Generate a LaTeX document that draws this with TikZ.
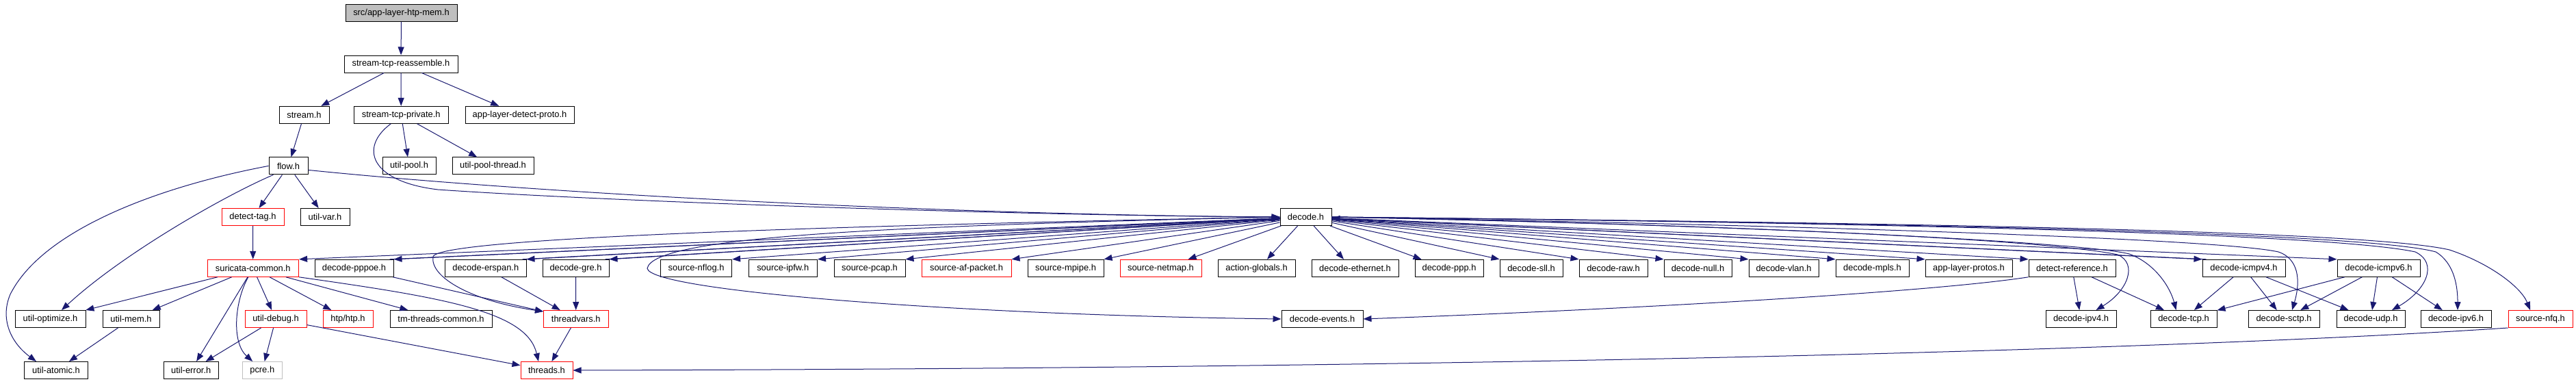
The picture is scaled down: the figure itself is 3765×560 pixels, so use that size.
\documentclass[tikz,border=0pt]{standalone}
\usepackage{fontspec}
\setmainfont{Liberation Sans}
\usetikzlibrary{arrows.meta}
\definecolor{edgec}{HTML}{191970}
\definecolor{rootfill}{HTML}{BFBFBF}
\definecolor{redb}{HTML}{FF0000}
\definecolor{greyb}{HTML}{BFBFBF}
\newcommand\nodefont{\fontsize{12.9}{15}\selectfont}
\newcommand\nd[6][box]{\node[#1,minimum width={#4pt-#3pt}] (#2) at ({(#3+#4)/2},#5) {#6};}
\tikzset{
  box/.style={draw=black, line width=1pt, minimum height=25pt, inner sep=0pt, font=\nodefont, fill=white},
  redbox/.style={box, draw=redb},
  greybox/.style={box, draw=greyb},
  rootbox/.style={box, fill=rootfill},
  e/.style={draw=edgec, line width=1pt, -{Triangle[length=12pt,width=9pt]}},
  back/.style={draw=edgec, line width=1pt, {Triangle[length=12pt,width=9pt]}-},
}
\begin{document}
\begin{tikzpicture}[x=1pt,y=-1pt]
\useasboundingbox (0,0) rectangle (3765,560);
% rows: 18.9 93.5 167.8 242.4 317 391.8 466 541
\nd[rootbox]{src}{505}{668}{18.9}{src/app-layer-htp-mem.h}
\nd{str}{503}{669}{93.5}{stream-tcp-reassemble.h}
\nd{stream}{408}{481}{167.8}{stream.h}
\nd{stp}{517}{655.5}{167.8}{stream-tcp-private.h}
\nd{aldp}{680}{839}{167.8}{app-layer-detect-proto.h}
\nd{flow}{393}{450}{242.4}{flow.h}
\nd{upool}{559}{637}{242.4}{util-pool.h}
\nd{upt}{661}{780}{242.4}{util-pool-thread.h}
\nd[redbox]{dtag}{324}{415}{317}{detect-tag.h}
\nd{uvar}{439}{511}{317}{util-var.h}
\nd{decode}{1871}{1946}{317}{decode.h}
% row 5
\nd[redbox]{sc}{303}{436.6}{391.8}{suricata-common.h}
\nd{pppoe}{460}{575}{391.8}{decode-pppoe.h}
\nd{erspan}{650.6}{769}{391.8}{decode-erspan.h}
\nd{gre}{793}{890}{391.8}{decode-gre.h}
\nd{nflog}{965.6}{1069.6}{391.8}{source-nflog.h}
\nd{ipfw}{1094}{1194.5}{391.8}{source-ipfw.h}
\nd{pcap}{1219}{1323}{391.8}{source-pcap.h}
\nd[redbox]{afp}{1347}{1478}{391.8}{source-af-packet.h}
\nd{mpipe}{1502}{1613}{391.8}{source-mpipe.h}
\nd[redbox]{netmap}{1637}{1756}{391.8}{source-netmap.h}
\nd{ag}{1780}{1893}{391.8}{action-globals.h}
\nd{eth}{1917}{2044}{391.8}{decode-ethernet.h}
\nd{ppp}{2068}{2168}{391.8}{decode-ppp.h}
\nd{sll}{2192}{2284}{391.8}{decode-sll.h}
\nd{raw}{2308}{2408}{391.8}{decode-raw.h}
\nd{dnull}{2432}{2531}{391.8}{decode-null.h}
\nd{vlan}{2556}{2658}{391.8}{decode-vlan.h}
\nd{mpls}{2683}{2790}{391.8}{decode-mpls.h}
\nd{alp}{2814}{2941}{391.8}{app-layer-protos.h}
\nd{detref}{2965}{3092}{391.8}{detect-reference.h}
\nd{icmpf}{3219}{3340}{391.8}{decode-icmpv4.h}
\nd{icmps}{3416}{3537}{391.8}{decode-icmpv6.h}
% row 6
\nd{uopt}{22}{125}{466}{util-optimize.h}
\nd{umem}{150}{233}{466}{util-mem.h}
\nd[redbox]{udebug}{358}{448}{466}{util-debug.h}
\nd[redbox]{htp}{472}{545}{466}{htp/htp.h}
\nd{tmtc}{570}{719}{466}{tm-threads-common.h}
\nd[redbox]{tv}{794.6}{889}{466}{threadvars.h}
\nd{devents}{1873}{1992}{466}{decode-events.h}
\nd{ipvf}{2990}{3093}{466}{decode-ipv4.h}
\nd{tcp}{3143}{3240}{466}{decode-tcp.h}
\nd{sctp}{3286}{3390}{466}{decode-sctp.h}
\nd{udp}{3415}{3515}{466}{decode-udp.h}
\nd{ipvs}{3538}{3641}{466}{decode-ipv6.h}
\nd[redbox]{nfq}{3666}{3760}{466}{source-nfq.h}
% row 7
\nd{uatomic}{35.5}{128.5}{541}{util-atomic.h}
\nd{uerr}{239.5}{319}{541}{util-error.h}
\nd[greybox]{pcre}{354}{412.5}{541}{pcre.h}
\nd[redbox]{threads}{761}{837}{541}{threads.h}

% upper part
\draw[e] (src) -- (str);
\draw[e] (str) -- (stream);
\draw[e] (str) -- (stp);
\draw[e] (str) -- (aldp);
\draw[e] (stream) -- (flow);
\draw[e] (stp) -- (upool);
\draw[e] (stp) -- (upt);
\draw[e] ([xshift=-15]stp.south) .. controls (525,215) and (540,265) .. (640,277) .. controls (900,295) and (1500,315) .. (decode.west);
\draw[e] ([yshift=-6]flow.east) .. controls (800,284) and (1400,314) .. (decode.west);
\draw[e] ([xshift=-22]flow.south) .. controls (330,285) and (180,370) .. ([xshift=16.5]uopt.north);
\draw[e] (flow.west) .. controls (220,275) and (60,340) .. (15,430) .. controls (0,465) and (15,500) .. ([xshift=-29]uatomic.north);
\draw[e] (flow) -- (dtag);
\draw[e] (flow) -- (uvar);
\draw[e] (dtag) -- (sc);

% suricata-common
\draw[e] (sc) -- (uopt);
\draw[e] (sc) -- (umem);
\draw[e] (sc) -- (uerr);
\draw[e] ([xshift=-7]sc.south) .. controls (343,440) and (338,500) .. ([xshift=-14]pcre.north);
\draw[e] (sc) -- (udebug);
\draw[e] (sc) -- (htp);
\draw[e] (sc) -- (tmtc);
\draw[e] (sc.south east) .. controls (650,435) and (770,455) .. ([xshift=-12]threads.north);
\draw[e] (umem) -- (uatomic);
\draw[e] (udebug) -- (uerr);
\draw[e] (udebug) -- (pcre);
\draw[e] (udebug) -- (threads);
\draw[e] (pppoe) -- (tv);
\draw[e] (erspan) -- (tv);
\draw[e] (gre) -- (tv);
\draw[e] (tv) -- (threads);
\draw[e] (nfq.south west) .. controls (3200,510) and (2200,538) .. (threads.east);

% decode.h fan-out, left
\draw[e] (decode) -- (sc.north east);
\draw[e] (decode) -- (pppoe.north east);
\draw[e] (decode) -- (erspan.north east);
\draw[e] (decode) -- (gre.north east);
\draw[back] (decode) -- ([xshift=-6]pppoe.north east);
\draw[back] (decode) -- ([xshift=-6]erspan.north east);
\draw[back] (decode) -- ([xshift=-6]gre.north east);
\draw[e] (decode) -- (nflog.north east);
\draw[e] (decode) -- (ipfw.north east);
\draw[e] (decode) -- (pcap.north east);
\draw[e] (decode) -- (afp.north east);
\draw[e] (decode) -- (mpipe.north east);
\draw[e] (decode) -- ([xshift=-20]netmap.north east);
\draw[e] (decode) -- ([xshift=15.5]ag.north);
\draw[e] (decode.west) .. controls (1200,330) and (640,348) .. (633,375) .. controls (628,405) and (690,440) .. ([yshift=-2]tv.north west);
\draw[e] (decode.west) .. controls (1300,330) and (955,345) .. (946,392) .. controls (950,425) and (1400,460) .. (devents.west);
% decode.h fan-out, right
\draw[e] (decode) -- ([xshift=-16.5]eth.north);
\draw[e] (decode) -- ([xshift=10]ppp.north west);
\draw[e] (decode) -- (sll.north west);
\draw[e] (decode) -- (raw.north west);
\draw[e] (decode) -- (dnull.north west);
\draw[e] (decode) -- (vlan.north west);
\draw[e] (decode) -- (mpls.north west);
\draw[e] (decode) -- (alp.north west);
\draw[e] (decode) -- (detref.north west);
\draw[e] (decode) -- (icmpf.north west);
\draw[back] (decode) -- ([xshift=6]icmpf.north west);
\draw[e] (decode) -- (icmps.north west);
\draw[e] (decode.east) .. controls (2600,330) and (3000,352) .. (3095,372) .. controls (3125,385) and (3110,425) .. ([xshift=22]ipvf.north);
\draw[e] (decode.east) .. controls (2600,330) and (3050,355) .. (3112,371) .. controls (3150,385) and (3172,420) .. ([xshift=-11]tcp.north);
\draw[e] (decode.east) .. controls (2700,330) and (3250,350) .. (3330,368) .. controls (3365,380) and (3360,420) .. ([xshift=12]sctp.north);
\draw[e] (decode.east) .. controls (2700,325) and (3400,340) .. (3530,368) .. controls (3565,385) and (3545,425) .. ([xshift=31]udp.north);
\draw[e] (decode.east) .. controls (2700,325) and (3450,338) .. (3560,368) .. controls (3588,385) and (3592,420) .. ([xshift=2.5]ipvs.north);
\draw[e] (decode.east) .. controls (2700,325) and (3450,335) .. (3580,365) .. controls (3640,385) and (3685,420) .. ([xshift=-15]nfq.north);

% lower right
\draw[e] (detref.south west) .. controls (2800,430) and (2300,455) .. (devents.east);
\draw[e] (detref) -- (ipvf);
\draw[e] (detref) -- (tcp);
\draw[e] (icmpf) -- (tcp);
\draw[e] (icmpf) -- (sctp);
\draw[e] (icmpf) -- (udp);
\draw[e] (icmps) -- (tcp);
\draw[e] (icmps) -- (sctp);
\draw[e] (icmps) -- (udp);
\draw[e] (icmps) -- (ipvs);
\end{tikzpicture}
\end{document}
